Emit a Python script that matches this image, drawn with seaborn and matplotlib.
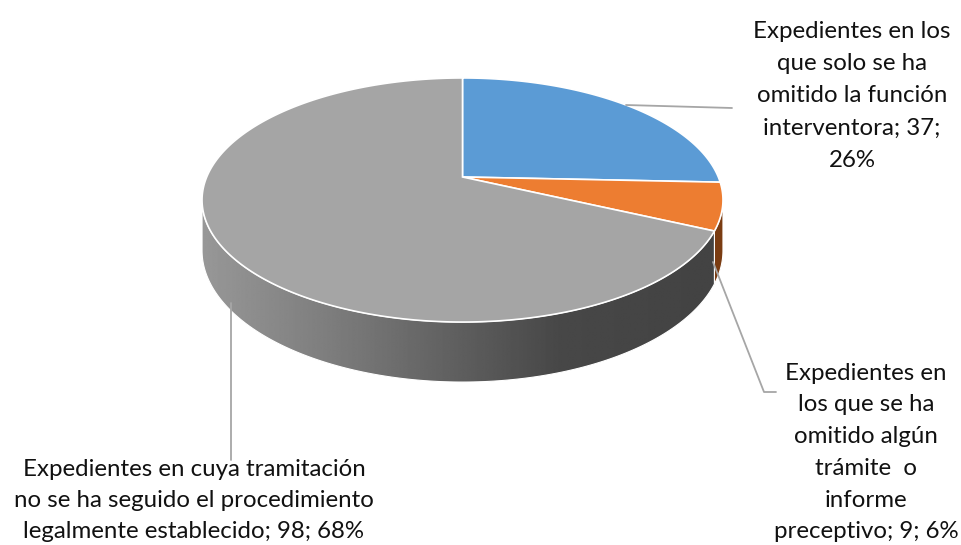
import numpy as np
import matplotlib
matplotlib.use("Agg")
import matplotlib.pyplot as plt
from matplotlib.patches import Polygon
import seaborn as sns

sns.set_theme(style="white")
plt.rcParams['font.family'] = ['Lato', 'DejaVu Sans']

# ---- data ----
categories = [
    "Expedientes en los\nque solo se ha\nomitido la función\ninterventora; 37;\n26%",
    "Expedientes en\nlos que se ha\nomitido algún\ntrámite  o\ninforme\npreceptivo; 9; 6%",
    "Expedientes en cuya tramitación\nno se ha seguido el procedimiento\nlegalmente establecido; 98; 68%",
]
values = [37, 9, 98]
top_colors = ["#5B9BD5", "#ED7D31", "#A5A5A5"]

# ---- geometry (pixel layout) ----
W, H = 962, 545
cx, cy = 462.5, 177.0
A, B = 255.8, 117.7
p = 0.1885
D = 48.7

def proj(t, depth=0.0):
    t = np.asarray(t, dtype=float)
    s = 1.0 / (1.0 + p * np.cos(t))
    x = cx + A * np.sin(t) * s
    y = cy - B * np.cos(t) * s + depth * D * s
    return x, y

fig = plt.figure(figsize=(W / 100, H / 100), dpi=100)
ax = fig.add_axes([0, 0, 1, 1])
ax.set_xlim(0, W)
ax.set_ylim(H, 0)
ax.axis("off")

total = float(sum(values))
bounds = np.concatenate([[0.0], np.cumsum(values) / total * 2 * np.pi])

# visible side range
t_r = np.arccos(-p)              # right extreme
t_l = 2 * np.pi - np.arccos(-p)  # left extreme

side_colors = ["#2E5F8A", "#7A3C12", None]
for i in range(len(values)):
    a0, a1 = bounds[i], bounds[i + 1]
    lo, hi = max(a0, t_r), min(a1, t_l)
    if hi <= lo:
        continue
    tt = np.linspace(lo, hi, 200)
    xt, yt = proj(tt, 0)
    xb, yb = proj(tt[::-1], 1)
    poly = np.column_stack([np.concatenate([xt, xb]), np.concatenate([yt, yb])])
    if side_colors[i] is not None:
        ax.add_patch(Polygon(poly, closed=True, facecolor=side_colors[i],
                             edgecolor="white", lw=0.8, zorder=2))
    else:
        patch = Polygon(poly, closed=True, facecolor="none",
                        edgecolor="white", lw=0.8, zorder=3)
        ax.add_patch(patch)
        gx = np.linspace(195, 730, 400)
        kx = [195, 330, 460, 560, 730]
        kv = [0.60, 0.49, 0.37, 0.28, 0.26]
        g = np.interp(gx, kx, kv)
        img = np.tile(g, (10, 1))
        im = ax.imshow(img, cmap="gray", vmin=0, vmax=1, aspect="auto",
                       extent=(195, 730, 400, 150), zorder=2,
                       interpolation="bilinear")
        im.set_clip_path(patch)

# top face
for i in range(len(values)):
    a0, a1 = bounds[i], bounds[i + 1]
    tt = np.linspace(a0, a1, 300)
    xt, yt = proj(tt, 0)
    poly = np.column_stack([np.concatenate([[cx], xt]), np.concatenate([[cy], yt])])
    ax.add_patch(Polygon(poly, closed=True, facecolor=top_colors[i],
                         edgecolor="white", lw=1.2, zorder=4))

# leader lines
lc = "#A6A6A6"
ax.plot([626, 732], [105, 108], color=lc, lw=1.3, zorder=5)
ax.plot([713, 764, 776], [262, 392, 392], color=lc, lw=1.3, zorder=5)
ax.plot([231, 231], [303, 460], color=lc, lw=1.3, zorder=5)

# labels
fs = 17.3
def label(text, xc, y0, dy):
    for k, line in enumerate(text.split("\n")):
        ax.text(xc, y0 + k * dy, line, ha="center", va="center",
                fontsize=fs, color="#111111", zorder=6)

label(categories[0], 852, 31, 32.3)
label(categories[1], 866, 373, 31.8)
label(categories[2], 194, 469, 31.5)

fig.savefig("out.png", dpi=100, facecolor="white")
